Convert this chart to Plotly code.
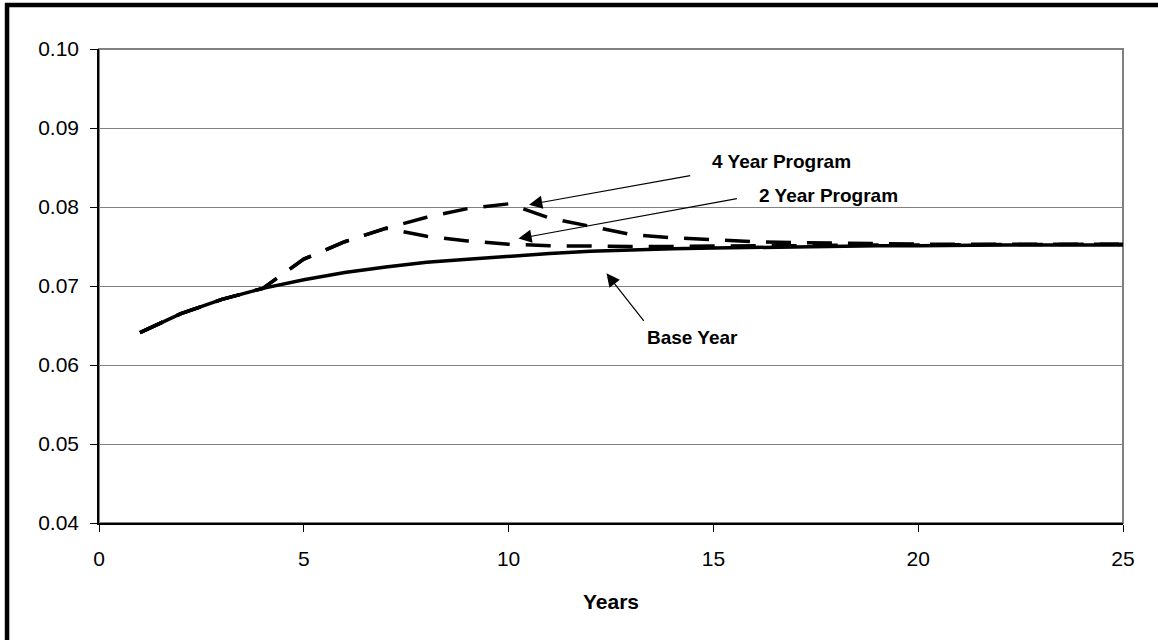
import plotly.graph_objects as go

years = list(range(1, 26))
base_year = [0.0641, 0.0665, 0.0683, 0.0697, 0.0708, 0.0717, 0.0724, 0.0730, 0.0734, 0.0738,
             0.0741, 0.0744, 0.0746, 0.0747, 0.0748, 0.0749, 0.0750, 0.0751, 0.0751, 0.0751,
             0.0752, 0.0752, 0.0752, 0.0752, 0.0752]
four_year = [0.0641, 0.0665, 0.0683, 0.0697, 0.0734, 0.0756, 0.0773, 0.0787, 0.0798, 0.0804,
             0.0786, 0.0775, 0.0765, 0.0761, 0.0758, 0.0756, 0.0755, 0.0754, 0.0754, 0.0753,
             0.0753, 0.0753, 0.0753, 0.0753, 0.0753]
two_year = [0.0641, 0.0665, 0.0683, 0.0697, 0.0734, 0.0756, 0.0773, 0.0763, 0.0757, 0.0753,
            0.0751, 0.0750, 0.0750, 0.0750, 0.0751, 0.0751, 0.0751, 0.0752, 0.0752, 0.0752,
            0.0752, 0.0752, 0.0753, 0.0753, 0.0753]
x_ticks = [0, 5, 10, 15, 20, 25]
y_ticks = [0.04, 0.05, 0.06, 0.07, 0.08, 0.09, 0.10]

FONT = "Arial, Liberation Sans, sans-serif"
DASH = "25px,16px"

fig = go.Figure()
fig.add_trace(go.Scatter(x=years, y=four_year, mode="lines", name="4 Year Program",
                         line=dict(color="black", width=3.5, dash=DASH)))
fig.add_trace(go.Scatter(x=years, y=two_year, mode="lines", name="2 Year Program",
                         line=dict(color="black", width=3.5, dash=DASH)))
fig.add_trace(go.Scatter(x=years, y=base_year, mode="lines", name="Base Year",
                         line=dict(color="black", width=3.5)))

# Text labels
labels = [
    ("4 Year Program", 16.67, 0.0857),
    ("2 Year Program", 17.82, 0.0814),
    ("Base Year", 14.5, 0.0635),
]
for txt, lx, ly in labels:
    fig.add_annotation(x=lx, y=ly, text="<b>%s</b>" % txt, showarrow=False,
                       font=dict(family=FONT, size=19, color="black"))

# Arrows (tail -> head)
arrows = [
    (14.47, 0.0840, 10.5, 0.0803),
    (15.61, 0.0811, 10.24, 0.0760),
    (13.33, 0.0654, 12.39, 0.0716),
]
for tx, ty, hx, hy in arrows:
    fig.add_annotation(x=hx, y=hy, ax=tx, ay=ty, xref="x", yref="y", axref="x", ayref="y",
                       text="", showarrow=True, arrowhead=2, arrowsize=2.2, arrowwidth=1.2,
                       arrowcolor="black")

# plot area border (gray) and outer black frame
fig.add_shape(type="rect", xref="paper", yref="paper", x0=0, x1=1, y0=0, y1=1,
              line=dict(color="#808080", width=2), layer="below")
fig.add_shape(type="rect", xref="paper", yref="paper", x0=-0.0898, x1=1.06, y0=-0.28, y1=1.0928,
              line=dict(color="black", width=4.5))

fig.update_layout(
    width=1158, height=640,
    margin=dict(l=99, r=35, t=49, b=117),
    paper_bgcolor="white", plot_bgcolor="white",
    showlegend=False,
    font=dict(family=FONT, size=21, color="black"),
)
fig.update_xaxes(range=[0, 25], tickvals=x_ticks, ticktext=[str(v) for v in x_ticks],
                 showgrid=False, zeroline=False, showline=True, linecolor="black", linewidth=1.5,
                 ticks="outside", ticklen=7, tickcolor="black", tickwidth=1,
                 ticklabelstandoff=9,
                 title=dict(text="<b>Years</b>", font=dict(family=FONT, size=21), standoff=25))
fig.update_yaxes(range=[0.04, 0.10], tickvals=y_ticks, ticktext=["%.2f" % v for v in y_ticks],
                 showgrid=True, gridcolor="#808080", gridwidth=1, zeroline=False,
                 showline=True, linecolor="black", linewidth=1.5,
                 ticks="outside", ticklen=7, tickcolor="black", tickwidth=1,
                 ticklabelstandoff=7)

fig.write_html("out.html", config={"displayModeBar": False},
               post_script="document.body.style.margin='0';document.body.style.overflow='hidden';")
